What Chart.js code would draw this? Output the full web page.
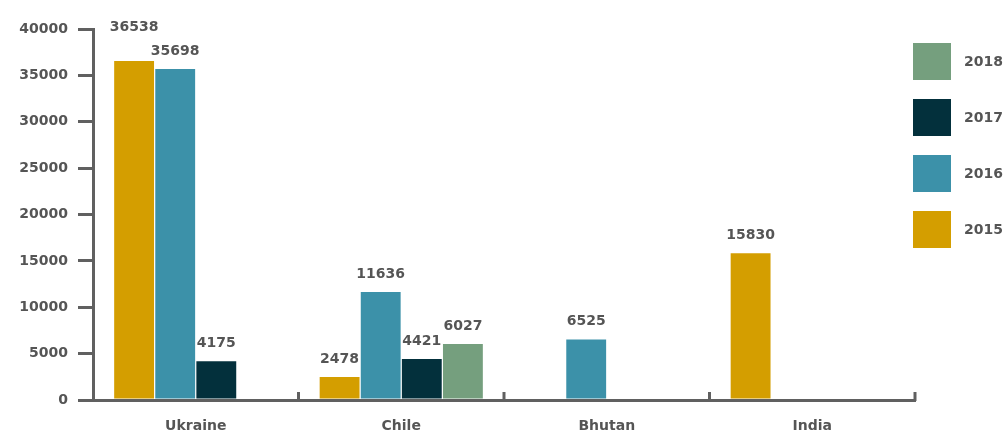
<!DOCTYPE html>
<html>
<head>
<meta charset="utf-8">
<script src="https://cdn.jsdelivr.net/npm/chart.js@4"></script>
<style>
  html, body { margin: 0; padding: 0; background: #fff; }
  #wrap { width: 1008px; height: 435px; position: relative; }
</style>
</head>
<body>
<div id="wrap"><canvas id="chart" width="1008" height="435"></canvas></div>
<script>
// categories and series
const countries = ["Ukraine", "Chile", "Bhutan", "India"];
const years = ["2015", "2016", "2017", "2018"];
const values2015 = [36538, 2478, null, 15830];
const values2016 = [35698, 11636, 6525, null];
const values2017 = [4175, 4421, null, null];
const values2018 = [null, 6027, null, null];

// defines bar colors
const yearColors = ["#D49E00", "#3C91A9", "#03303C", "#759F7E"];

const textColor = "#555555";
const axisColor = "#606060";
const font = { family: "'DejaVu Sans', sans-serif", size: 14, weight: "bold" };
const fontCss = "bold 14px 'DejaVu Sans', sans-serif";

// labels above bars, lifted when two neighbours would collide
const valueLabels = {
  id: "valueLabels",
  afterDatasetsDraw(chart) {
    const ctx = chart.ctx;
    ctx.save();
    ctx.font = fontCss;
    ctx.fillStyle = textColor;
    ctx.textAlign = "center";
    ctx.textBaseline = "bottom";
    countries.forEach((c, j) => {
      const labels = [];
      chart.data.datasets.forEach((ds, i) => {
        if (ds.data[j] == null) return;
        const bar = chart.getDatasetMeta(i).data[j];
        const text = String(ds.data[j]);
        labels.push({ text, x: bar.x, y: bar.y - 11, w: ctx.measureText(text).width });
      });
      for (let k = 1; k < labels.length; k++) {
        const a = labels[k - 1];
        const b = labels[k];
        const overlapX = Math.abs(a.x - b.x) < (a.w + b.w) / 2 + 2;
        if (overlapX && Math.abs(a.y - b.y) < 16) {
          if (a.y < b.y) a.y = b.y - 24;
          else b.y = a.y - 24;
        }
      }
      labels.forEach((l) => ctx.fillText(l.text, l.x, l.y));
    });
    ctx.restore();
  },
};

// small upward ticks between categories on the x axis
const categoryTicks = {
  id: "categoryTicks",
  afterDraw(chart) {
    const ctx = chart.ctx;
    const x = chart.scales.x;
    const bottom = chart.chartArea.bottom;
    const half = (x.getPixelForValue(1) - x.getPixelForValue(0)) / 2;
    ctx.save();
    ctx.strokeStyle = axisColor;
    ctx.lineWidth = 3;
    for (let i = 0; i < countries.length; i++) {
      const right = x.getPixelForValue(i) + half;
      ctx.beginPath();
      ctx.moveTo(right, bottom + 1);
      ctx.lineTo(right, bottom - 8);
      ctx.stroke();
    }
    ctx.restore();
  },
};

// legend boxes on the right, newest year on top
const sideLegend = {
  id: "sideLegend",
  afterDraw(chart) {
    const ctx = chart.ctx;
    ctx.save();
    ctx.font = fontCss;
    ctx.textBaseline = "middle";
    const order = [3, 2, 1, 0];
    order.forEach((d, k) => {
      const ds = chart.data.datasets[d];
      const top = 43 + k * 56;
      ctx.fillStyle = ds.backgroundColor;
      ctx.fillRect(913, top, 38, 37);
      ctx.fillStyle = textColor;
      ctx.fillText(ds.label, 964, top + 19);
    });
    ctx.restore();
  },
};

new Chart("chart", {
  type: "bar",
  data: {
    labels: countries,
    datasets: [
      { label: years[0], data: values2015, backgroundColor: yearColors[0] },
      { label: years[1], data: values2016, backgroundColor: yearColors[1] },
      { label: years[2], data: values2017, backgroundColor: yearColors[2] },
      { label: years[3], data: values2018, backgroundColor: yearColors[3] },
    ],
  },
  options: {
    responsive: false,
    animation: false,
    layout: { padding: { top: 29, right: 93, left: 0, bottom: 0 } },
    datasets: { bar: { categoryPercentage: 0.8, barPercentage: 0.97 } },
    plugins: { legend: { display: false }, tooltip: { enabled: false } },
    scales: {
      x: {
        grid: { display: false },
        border: { display: true, color: axisColor, width: 3 },
        ticks: { color: textColor, font: font, padding: 10 },
        afterFit(scale) { scale.height = 35; },
      },
      y: {
        min: 0,
        max: 40000,
        ticks: {
          stepSize: 5000,
          color: textColor,
          font: font,
          padding: 10,
          callback: (v) => String(v),
        },
        grid: { drawOnChartArea: false, drawTicks: true, tickLength: 15, color: axisColor, lineWidth: 3 },
        border: { display: true, color: axisColor, width: 3 },
        afterFit(scale) { scale.width = 93; },
      },
    },
  },
  plugins: [valueLabels, categoryTicks, sideLegend],
});
</script>
</body>
</html>
